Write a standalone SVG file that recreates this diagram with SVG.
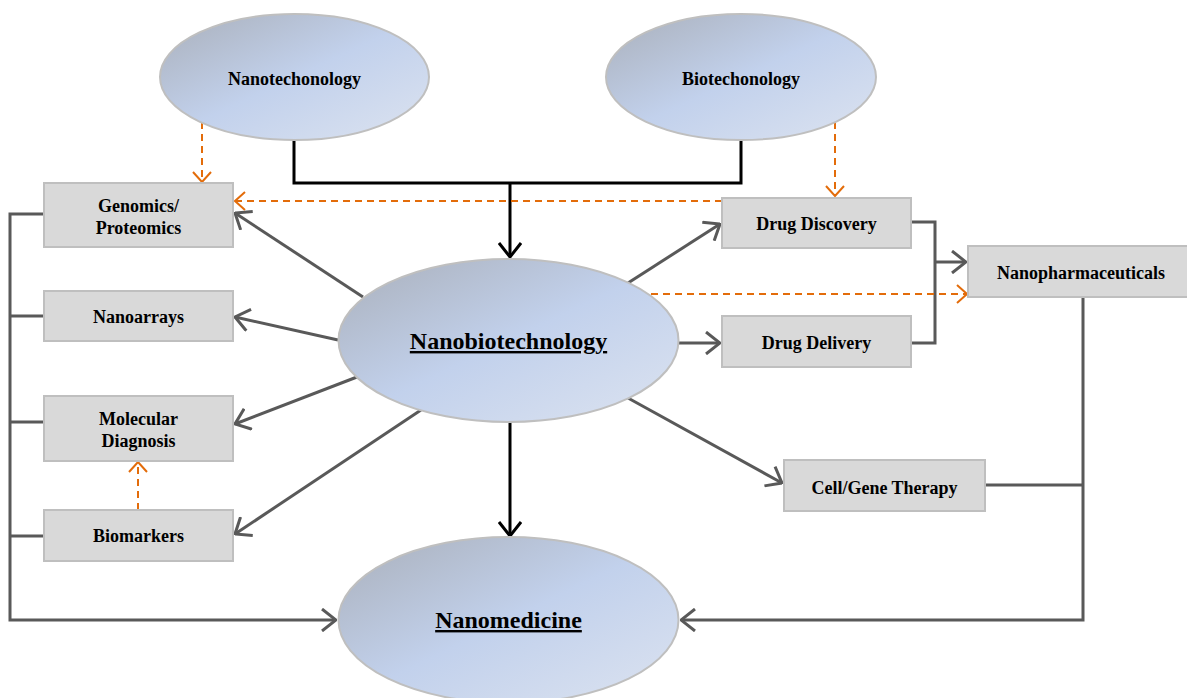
<svg xmlns="http://www.w3.org/2000/svg" width="1187" height="698" viewBox="0 0 1187 698">
<defs>
<linearGradient id="eg" x1="0" y1="0" x2="1" y2="1">
<stop offset="0" stop-color="#A9AFBA"/>
<stop offset="0.5" stop-color="#C2D1EC"/>
<stop offset="1" stop-color="#DCE3F0"/>
</linearGradient>
<marker id="ag" markerUnits="userSpaceOnUse" viewBox="0 0 16 24" refX="15" refY="12" markerWidth="16" markerHeight="24" orient="auto">
<path d="M1,1 L15,12 L1,23" fill="none" stroke="#595959" stroke-width="3"/>
</marker>
<marker id="ab" markerUnits="userSpaceOnUse" viewBox="0 0 16 24" refX="15" refY="12" markerWidth="16" markerHeight="24" orient="auto">
<path d="M1,1 L15,12 L1,23" fill="none" stroke="#000" stroke-width="3"/>
</marker>
<marker id="ao" markerUnits="userSpaceOnUse" viewBox="0 0 12 20" refX="11" refY="10" markerWidth="12" markerHeight="20" orient="auto">
<path d="M1,1 L11,10 L1,19" fill="none" stroke="#E36C0A" stroke-width="2"/>
</marker>
</defs>
<style>
.ell{fill:url(#eg);stroke:#BFBFBF;stroke-width:2}
.box{fill:#D9D9D9;stroke:#BFBFBF;stroke-width:2}
.t{font-family:"Liberation Serif","Times New Roman",serif;font-weight:bold;font-size:18px;fill:#000;text-anchor:middle}
.big{font-size:24px;text-decoration:underline}
.g{fill:none;stroke:#595959;stroke-width:3}
.b{fill:none;stroke:#000;stroke-width:3}
.o{fill:none;stroke:#E36C0A;stroke-width:2;stroke-dasharray:7,5}
</style>
<g id="connectors">
<path class="b" d="M294,139 V183 H741 V140"/>
<path class="b" d="M510,183 V257" marker-end="url(#ab)"/>
<path class="b" d="M510,422 V536" marker-end="url(#ab)"/>
<path class="g" d="M363,297 L235,213" marker-end="url(#ag)"/>
<path class="g" d="M338,340 L235,317" marker-end="url(#ag)"/>
<path class="g" d="M357,377 L235,424" marker-end="url(#ag)"/>
<path class="g" d="M421,410 L235,534" marker-end="url(#ag)"/>
<path class="g" d="M628,283 L720,224" marker-end="url(#ag)"/>
<path class="g" d="M679,343 L720,343" marker-end="url(#ag)"/>
<path class="g" d="M628,398 L782,483" marker-end="url(#ag)"/>
<path class="g" d="M911,222 H935 V343 H911"/>
<path class="g" d="M935,262 H966" marker-end="url(#ag)"/>
<path class="g" d="M1083,297 V620 H681" marker-end="url(#ag)"/>
<path class="g" d="M985,485 H1083"/>
<path class="g" d="M44,214 H10 V620 H336" marker-end="url(#ag)"/>
<path class="g" d="M10,316 H44 M10,422 H44 M10,536 H44"/>
<path class="o" d="M202,122 V182" marker-end="url(#ao)"/>
<path class="o" d="M835,122 V196" marker-end="url(#ao)"/>
<path class="o" d="M722,201 H235" marker-end="url(#ao)"/>
<path class="o" d="M651,294 H967" marker-end="url(#ao)"/>
<path class="o" d="M138,510 V462" marker-end="url(#ao)"/>
</g>
<g id="nanotechnology">
<ellipse class="ell" cx="294.5" cy="77" rx="134.5" ry="63"/>
<text class="t" x="294.5" y="85">Nanotechonology</text>
</g>
<g id="biotechnology">
<ellipse class="ell" cx="741" cy="77" rx="135" ry="63"/>
<text class="t" x="741" y="85">Biotechonology</text>
</g>
<g id="nanobiotechnology">
<ellipse class="ell" cx="508.5" cy="340.5" rx="170" ry="81.5"/>
<text class="t big" x="508.5" y="349">Nanobiotechnology</text>
</g>
<g id="nanomedicine">
<ellipse class="ell" cx="508.5" cy="620" rx="170" ry="83"/>
<text class="t big" x="508.5" y="628">Nanomedicine</text>
</g>
<g id="genomics">
<rect class="box" x="44" y="183" width="189" height="64"/>
<text class="t" x="138.5" y="212">Genomics/</text>
<text class="t" x="138.5" y="234">Proteomics</text>
</g>
<g id="nanoarrays">
<rect class="box" x="44" y="291" width="189" height="50"/>
<text class="t" x="138.5" y="323">Nanoarrays</text>
</g>
<g id="molecular-diagnosis">
<rect class="box" x="44" y="396" width="189" height="65"/>
<text class="t" x="138.5" y="425">Molecular</text>
<text class="t" x="138.5" y="447">Diagnosis</text>
</g>
<g id="biomarkers">
<rect class="box" x="44" y="510" width="189" height="51"/>
<text class="t" x="138.5" y="542">Biomarkers</text>
</g>
<g id="drug-discovery">
<rect class="box" x="722" y="198" width="189" height="50"/>
<text class="t" x="816.5" y="230">Drug Discovery</text>
</g>
<g id="drug-delivery">
<rect class="box" x="722" y="316" width="189" height="51"/>
<text class="t" x="816.5" y="349">Drug Delivery</text>
</g>
<g id="nanopharmaceuticals">
<rect class="box" x="968" y="246" width="222" height="51"/>
<text class="t" x="1081" y="279">Nanopharmaceuticals</text>
</g>
<g id="cell-gene-therapy">
<rect class="box" x="784" y="460" width="201" height="51"/>
<text class="t" x="884.5" y="494">Cell/Gene Therapy</text>
</g>
</svg>
